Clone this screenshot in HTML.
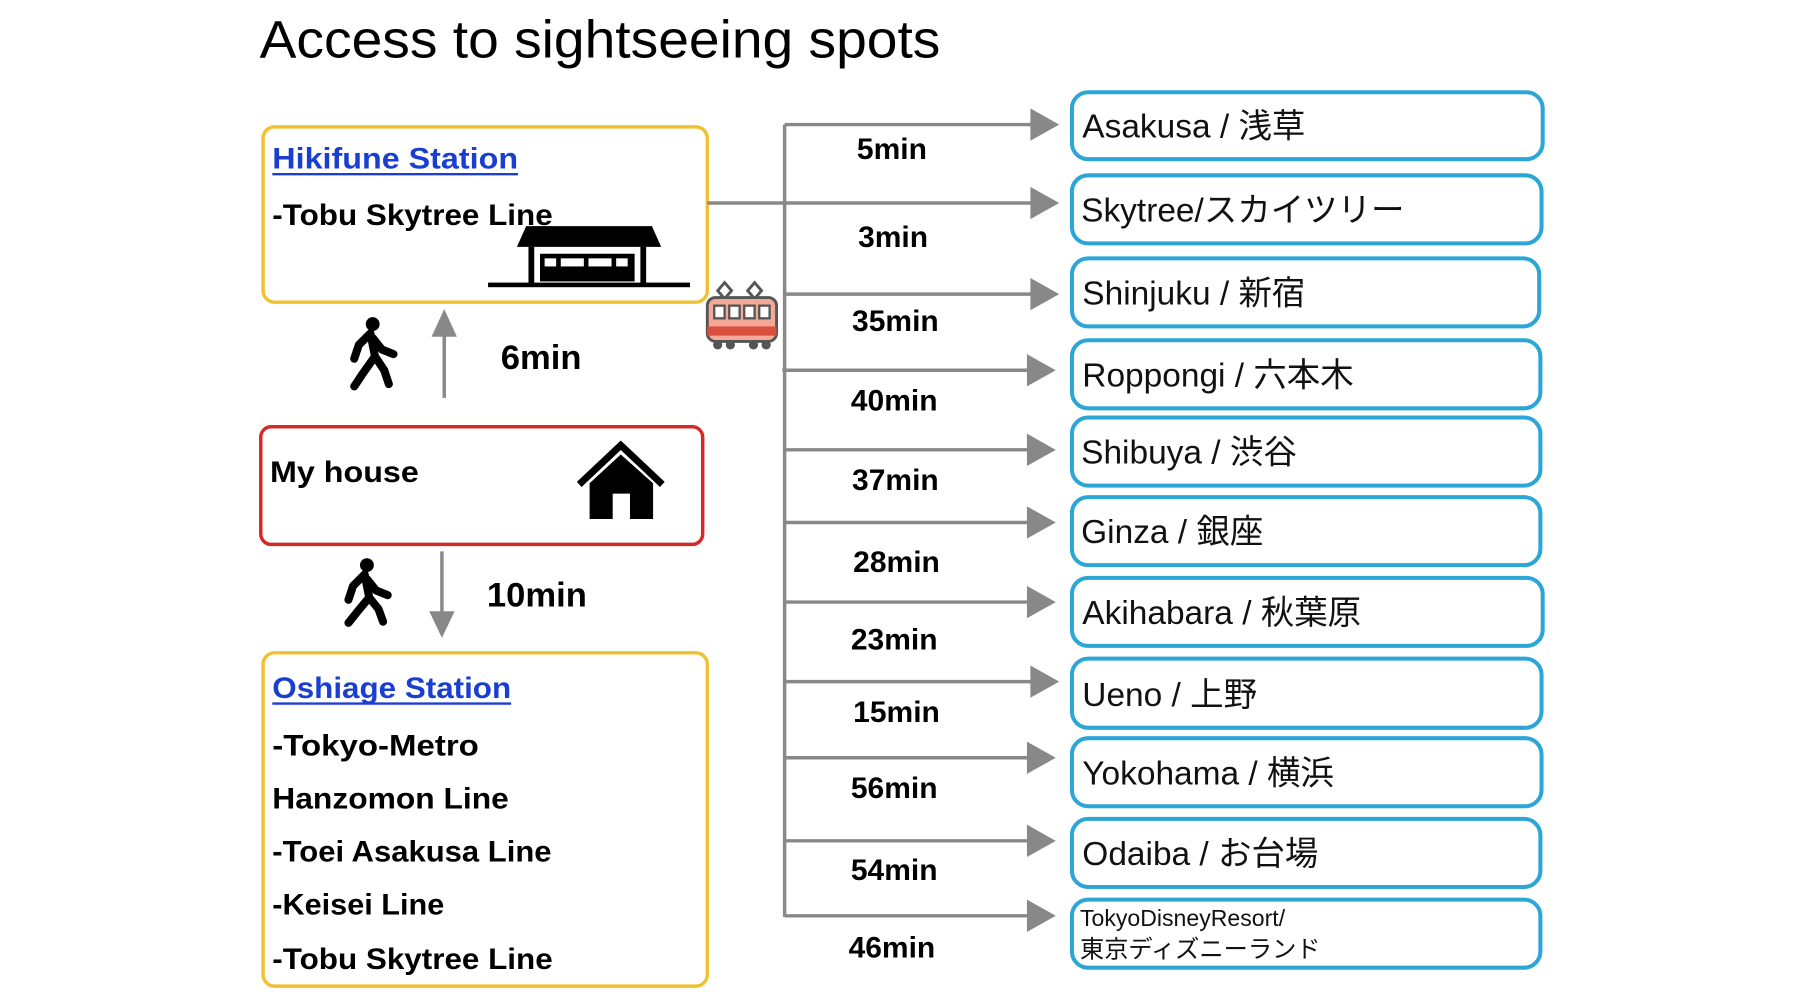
<!DOCTYPE html>
<html><head><meta charset="utf-8"><style>
html,body{margin:0;padding:0;background:#fff;width:1800px;height:1000px;overflow:hidden}
svg{display:block}
text{font-family:"Liberation Sans","Noto Sans CJK JP",sans-serif}
.b{font-weight:bold}
</style></head><body>
<svg width="1800" height="1000" viewBox="0 0 1560 867" preserveAspectRatio="none" xmlns="http://www.w3.org/2000/svg">
<text x="225" y="50" font-size="46" textLength="590" lengthAdjust="spacingAndGlyphs">Access to sightseeing spots</text>

<!-- Hikifune -->
<rect x="228" y="110" width="385" height="152" rx="10" fill="none" stroke="#f0c232" stroke-width="3"/>
<text x="236" y="146" font-size="26" class="b" fill="#1a3fd0" textLength="213" lengthAdjust="spacingAndGlyphs">Hikifune Station</text>
<line x1="236" y1="151" x2="449" y2="151" stroke="#1a3fd0" stroke-width="2"/>
<text x="236" y="195" font-size="26" class="b" textLength="243" lengthAdjust="spacingAndGlyphs">-Tobu Skytree Line</text>
<polygon points="456,196 565,196 573,214 448,214" fill="#000"/>
<rect x="458" y="214" width="5" height="32" fill="#000"/><rect x="555" y="214" width="5" height="32" fill="#000"/>
<rect x="468" y="220" width="82" height="24" fill="#000"/>
<rect x="472" y="224" width="10" height="7" fill="#fff"/><rect x="486" y="224" width="20" height="7" fill="#fff"/><rect x="510" y="224" width="20" height="7" fill="#fff"/><rect x="534" y="224" width="10" height="7" fill="#fff"/>
<rect x="423" y="245" width="175" height="4" fill="#000"/>

<!-- walker 1 -->
<g transform="translate(303,275)">
<circle cx="20" cy="6" r="6" fill="#000"/>
<path d="M18 14 L8 24 L4 36 M18 14 L22 34 L12 48 L4 60 M22 34 L30 46 L34 58 M20 18 L28 28 L38 32" stroke="#000" stroke-width="7" fill="none" stroke-linecap="round" stroke-linejoin="round"/>
</g>
<line x1="385" y1="345" x2="385" y2="285" stroke="#888" stroke-width="3"/>
<polygon points="385,268 374,292 396,292" fill="#888"/>
<text x="434" y="320" font-size="30" class="b">6min</text>

<!-- My house -->
<rect x="226" y="370" width="383" height="102" rx="9" fill="none" stroke="#d42a2a" stroke-width="3"/>
<text x="234" y="418" font-size="26" class="b" textLength="129" lengthAdjust="spacingAndGlyphs">My house</text>
<polyline points="502,420 538,386 574,420" fill="none" stroke="#000" stroke-width="6"/>
<polygon points="538,394 511,419 511,450 531,450 531,428 546,428 546,450 566,450 566,419" fill="#000"/>

<!-- walker 2 -->
<g transform="translate(298,484)">
<circle cx="20" cy="6" r="6" fill="#000"/>
<path d="M18 14 L8 24 L4 36 M18 14 L22 34 L12 46 L4 56 M22 34 L30 44 L34 55 M20 18 L28 28 L38 32" stroke="#000" stroke-width="7" fill="none" stroke-linecap="round" stroke-linejoin="round"/>
</g>
<line x1="383" y1="478" x2="383" y2="535" stroke="#888" stroke-width="3"/>
<polygon points="383,553 372,530 394,530" fill="#888"/>
<text x="422" y="526" font-size="30" class="b">10min</text>

<!-- Oshiage -->
<rect x="228" y="566" width="385" height="289" rx="10" fill="none" stroke="#f0c232" stroke-width="3"/>
<text x="236" y="605" font-size="26" class="b" fill="#1a3fd0" textLength="207" lengthAdjust="spacingAndGlyphs">Oshiage Station</text>
<line x1="236" y1="610" x2="443" y2="610" stroke="#1a3fd0" stroke-width="2"/>
<g font-size="26" class="b">
<text x="236" y="655" class="b" textLength="179" lengthAdjust="spacingAndGlyphs">-Tokyo-Metro</text>
<text x="236" y="701" class="b" textLength="205" lengthAdjust="spacingAndGlyphs">Hanzomon Line</text>
<text x="236" y="747" class="b" textLength="242" lengthAdjust="spacingAndGlyphs">-Toei Asakusa Line</text>
<text x="236" y="793" class="b" textLength="149" lengthAdjust="spacingAndGlyphs">-Keisei Line</text>
<text x="236" y="840" class="b" textLength="243" lengthAdjust="spacingAndGlyphs">-Tobu Skytree Line</text>
</g>

<!-- train -->
<g>
<path d="M622 252 l6 -7 l6 7 l-6 7z M648 252 l6 -7 l6 7 l-6 7z" fill="none" stroke="#555" stroke-width="2.5"/>
<rect x="613" y="258" width="60" height="38" rx="7" fill="#f4a898" stroke="#555" stroke-width="2.5"/>
<rect x="613" y="283" width="60" height="8" fill="#d9513c"/>
<rect x="619" y="265" width="9" height="11" fill="#fff" stroke="#555" stroke-width="2"/><rect x="632" y="265" width="9" height="11" fill="#fff" stroke="#555" stroke-width="2"/><rect x="645" y="265" width="9" height="11" fill="#fff" stroke="#555" stroke-width="2"/><rect x="658" y="265" width="9" height="11" fill="#fff" stroke="#555" stroke-width="2"/>
<circle cx="622" cy="299" r="4" fill="#555"/><circle cx="633" cy="299" r="4" fill="#555"/><circle cx="653" cy="299" r="4" fill="#555"/><circle cx="664" cy="299" r="4" fill="#555"/>
</g>

<!-- connectors -->
<g stroke="#888" stroke-width="3" fill="none">
<line x1="680" y1="108" x2="680" y2="795"/>
<line x1="680" y1="108" x2="896" y2="108"/>
<line x1="613" y1="176" x2="896" y2="176"/>
<line x1="680" y1="255" x2="896" y2="255"/>
<line x1="678" y1="321" x2="893" y2="321"/>
<line x1="680" y1="390" x2="893" y2="390"/>
<line x1="680" y1="453" x2="893" y2="453"/>
<line x1="680" y1="522" x2="893" y2="522"/>
<line x1="680" y1="591" x2="896" y2="591"/>
<line x1="680" y1="657" x2="893" y2="657"/>
<line x1="680" y1="729" x2="893" y2="729"/>
<line x1="680" y1="794" x2="893" y2="794"/>
</g>
<g fill="#888">
<polygon points="893,94 918,108 893,122"/>
<polygon points="893,162 918,176 893,190"/>
<polygon points="893,241 918,255 893,269"/>
<polygon points="890,307 915,321 890,335"/>
<polygon points="890,376 915,390 890,404"/>
<polygon points="890,439 915,453 890,467"/>
<polygon points="890,508 915,522 890,536"/>
<polygon points="893,577 918,591 893,605"/>
<polygon points="890,643 915,657 890,671"/>
<polygon points="890,715 915,729 890,743"/>
<polygon points="890,780 915,794 890,808"/>
</g>
<g font-size="26" class="b" text-anchor="middle">
<text x="773" y="138" class="b">5min</text>
<text x="774" y="214" class="b">3min</text>
<text x="776" y="287" class="b">35min</text>
<text x="775" y="356" class="b">40min</text>
<text x="776" y="425" class="b">37min</text>
<text x="777" y="496" class="b">28min</text>
<text x="775" y="563" class="b">23min</text>
<text x="777" y="626" class="b">15min</text>
<text x="775" y="692" class="b">56min</text>
<text x="775" y="763" class="b">54min</text>
<text x="773" y="830" class="b">46min</text>
</g>

<!-- destinations -->
<g fill="none" stroke="#2ba6d6" stroke-width="3.5">
<rect x="929" y="80" width="408" height="58" rx="14"/>
<rect x="929" y="152" width="407" height="59" rx="14"/>
<rect x="929" y="224" width="405" height="59" rx="14"/>
<rect x="929" y="295" width="406" height="59" rx="14"/>
<rect x="929" y="362" width="406" height="59" rx="14"/>
<rect x="929" y="431" width="406" height="59" rx="14"/>
<rect x="929" y="501" width="408" height="59" rx="14"/>
<rect x="929" y="571" width="407" height="60" rx="14"/>
<rect x="929" y="640" width="407" height="59" rx="14"/>
<rect x="929" y="710" width="406" height="59" rx="14"/>
<rect x="929" y="780" width="406" height="59" rx="14"/>
</g>
<g font-size="29" fill="#111">
<text x="938" y="119">Asakusa / 浅草</text>
<text x="937" y="192">Skytree/スカイツリー</text>
<text x="938" y="264">Shinjuku / 新宿</text>
<text x="938" y="335">Roppongi / 六本木</text>
<text x="937" y="402">Shibuya / 渋谷</text>
<text x="937" y="471">Ginza / 銀座</text>
<text x="938" y="541">Akihabara / 秋葉原</text>
<text x="938" y="612">Ueno / 上野</text>
<text x="938" y="680">Yokohama / 横浜</text>
<text x="938" y="750">Odaiba / お台場</text>
</g>
<text x="936" y="803" font-size="20" fill="#111">TokyoDisneyResort/</text>
<text x="936" y="830" font-size="21" fill="#111">東京ディズニーランド</text>
</svg>
</body></html>
